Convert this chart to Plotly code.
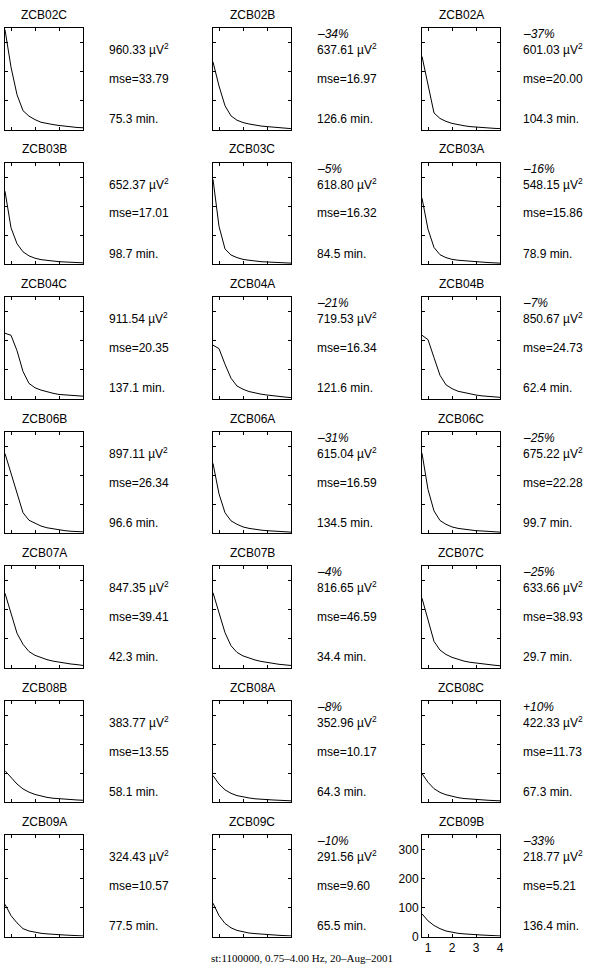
import plotly.graph_objects as go

freq = [0.75, 1.0, 1.25, 1.5, 1.75, 2.0, 2.25, 2.5, 2.75, 3.0, 3.25, 3.5, 3.75, 4.0]

ZCB02C = [344, 215, 120, 65, 46, 34, 25, 20, 17, 14, 11, 9, 7, 6]
ZCB02B = [233, 150, 82, 47, 32, 24, 19, 15, 12, 10, 8, 6, 5, 3]
ZCB02A = [252, 150, 57, 38, 28, 21, 16, 13, 10, 8, 7, 5, 4, 3]
ZCB03B = [251, 125, 70, 42, 28, 20, 15, 12, 10, 8, 7, 6, 5, 4]
ZCB03C = [292, 130, 52, 31, 22, 16, 13, 10, 8, 7, 6, 5, 4, 3]
ZCB03A = [227, 120, 57, 32, 22, 16, 13, 11, 9, 7, 6, 5, 4, 3]
ZCB04C = [225, 218, 165, 93, 52, 37, 29, 23, 18, 14, 12, 10, 9, 8]
ZCB04A = [184, 172, 118, 70, 43, 32, 24, 19, 15, 12, 9, 7, 5, 3]
ZCB04B = [218, 203, 141, 80, 47, 34, 25, 20, 16, 12, 9, 7, 5, 4]
ZCB06B = [274, 208, 140, 70, 44, 33, 24, 18, 14, 11, 8, 6, 5, 4]
ZCB06A = [240, 135, 70, 42, 30, 21, 16, 12, 10, 8, 7, 6, 4, 3]
ZCB06C = [275, 150, 76, 43, 30, 21, 16, 13, 10, 8, 7, 5, 4, 3]
ZCB07A = [256, 185, 118, 80, 55, 42, 34, 27, 22, 18, 15, 12, 10, 7]
ZCB07B = [258, 190, 120, 75, 52, 40, 32, 26, 21, 17, 14, 11, 9, 7]
ZCB07C = [239, 160, 90, 60, 45, 35, 28, 22, 18, 15, 12, 10, 8, 6]
ZCB08B = [108, 85, 62, 45, 34, 26, 20, 16, 13, 11, 9, 8, 7, 6]
ZCB08A = [91, 62, 42, 30, 22, 17, 14, 11, 9, 8, 7, 6, 5, 4]
ZCB08C = [98, 68, 46, 33, 25, 19, 15, 12, 10, 8, 7, 6, 5, 4]
ZCB09A = [111, 72, 47, 27, 19, 14, 11, 9, 7, 6, 5, 4, 3, 2]
ZCB09C = [115, 72, 45, 30, 21, 16, 12, 10, 8, 6, 5, 4, 3, 2]
ZCB09B = [78, 54, 38, 27, 19, 14, 11, 9, 7, 6, 5, 4, 3, 2]

names = ["ZCB02C", "ZCB02B", "ZCB02A",
         "ZCB03B", "ZCB03C", "ZCB03A",
         "ZCB04C", "ZCB04A", "ZCB04B",
         "ZCB06B", "ZCB06A", "ZCB06C",
         "ZCB07A", "ZCB07B", "ZCB07C",
         "ZCB08B", "ZCB08A", "ZCB08C",
         "ZCB09A", "ZCB09C", "ZCB09B"]
spectra = [ZCB02C, ZCB02B, ZCB02A, ZCB03B, ZCB03C, ZCB03A, ZCB04C, ZCB04A, ZCB04B,
           ZCB06B, ZCB06A, ZCB06C, ZCB07A, ZCB07B, ZCB07C, ZCB08B, ZCB08A, ZCB08C,
           ZCB09A, ZCB09C, ZCB09B]
power = [960.33, 637.61, 601.03, 652.37, 618.80, 548.15, 911.54, 719.53, 850.67,
         897.11, 615.04, 675.22, 847.35, 816.65, 633.66, 383.77, 352.96, 422.33,
         324.43, 291.56, 218.77]
mse = [33.79, 16.97, 20.00, 17.01, 16.32, 15.86, 20.35, 16.34, 24.73, 26.34, 16.59,
       22.28, 39.41, 46.59, 38.93, 13.55, 10.17, 11.73, 10.57, 9.60, 5.21]
minutes = [75.3, 126.6, 104.3, 98.7, 84.5, 78.9, 137.1, 121.6, 62.4, 96.6, 134.5,
           99.7, 42.3, 34.4, 29.7, 58.1, 64.3, 67.3, 77.5, 65.5, 136.4]
pct = ["", "–34%", "–37%", "", "–5%", "–16%", "", "–21%", "–7%", "", "–31%", "–25%",
       "", "–4%", "–25%", "", "–8%", "+10%", "", "–10%", "–33%"]
yticks = [0, 100, 200, 300]
xticks = [1, 2, 3, 4]
caption = "st:1100000, 0.75–4.00 Hz, 20–Aug–2001"

W, H = 600, 973
col_left = [5, 213, 422]
text_off = [102, 102, 99]
pw = 78
row_top0 = 28
row_pitch = 134.5
ph = 101.5
FONT = "Liberation Sans, Arial, sans-serif"

fig = go.Figure()
annotations = []
layout = {}
for i, nm in enumerate(names):
    r, c = divmod(i, 3)
    left = col_left[c]
    top = row_top0 + r * row_pitch
    k = "" if i == 0 else str(i + 1)
    last = (i == len(names) - 1)
    fig.add_trace(go.Scatter(x=freq, y=spectra[i], mode="lines",
                             line=dict(color="black", width=1),
                             xaxis="x" + k, yaxis="y" + k,
                             showlegend=False, hoverinfo="skip"))
    common = dict(showline=True, linecolor="black", linewidth=1, mirror="ticks",
                  ticks="inside", ticklen=3, tickcolor="black", showgrid=False,
                  zeroline=False, automargin=False,
                  tickfont=dict(family=FONT, size=12, color="black"))
    layout["xaxis" + k] = dict(domain=[left / W, (left + pw) / W], range=[0.75, 4],
                               anchor="y" + k, tickvals=xticks,
                               showticklabels=last, **common)
    layout["yaxis" + k] = dict(domain=[1 - (top + ph) / H, 1 - top / H], range=[0, 350],
                               anchor="x" + k, tickvals=yticks,
                               showticklabels=last, **common)
    annotations.append(dict(x=(left + pw / 2) / W, y=1 - (top - 13) / H, xref="paper",
                            yref="paper", text=nm, showarrow=False, xanchor="center",
                            yanchor="middle", font=dict(family=FONT, size=12, color="black")))
    tx = (left + text_off[c]) / W
    if pct[i]:
        annotations.append(dict(x=tx, y=1 - (top + 6) / H, xref="paper", yref="paper",
                                text="<i>" + pct[i] + "</i>", showarrow=False,
                                xanchor="left", yanchor="middle",
                                font=dict(family=FONT, size=12, color="black")))
    annotations.append(dict(x=tx, y=1 - (top + 21) / H, xref="paper", yref="paper",
                            text=f"{power[i]:.2f} µV<sup>2</sup>", showarrow=False,
                            xanchor="left", yanchor="middle",
                            font=dict(family=FONT, size=12, color="black")))
    annotations.append(dict(x=tx, y=1 - (top + 51) / H, xref="paper", yref="paper",
                            text=f"mse={mse[i]:.2f}", showarrow=False,
                            xanchor="left", yanchor="middle",
                            font=dict(family=FONT, size=12, color="black")))
    annotations.append(dict(x=tx, y=1 - (top + 91) / H, xref="paper", yref="paper",
                            text=f"{minutes[i]:.1f} min.", showarrow=False,
                            xanchor="left", yanchor="middle",
                            font=dict(family=FONT, size=12, color="black")))

annotations.append(dict(x=302 / W, y=1 - 958 / H, xref="paper", yref="paper",
                        text=caption, showarrow=False, xanchor="center", yanchor="middle",
                        font=dict(family="Liberation Serif, Times New Roman, serif",
                                  size=11, color="black")))

fig.update_layout(width=W, height=H, autosize=False,
                  margin=dict(l=0, r=0, t=0, b=0, pad=0),
                  paper_bgcolor="white", plot_bgcolor="white",
                  annotations=annotations, hovermode=False, **layout)

fig.write_html("out.html", config={"displayModeBar": False, "responsive": False},
               post_script="document.body.style.margin='0px';document.body.style.overflow='hidden';")
